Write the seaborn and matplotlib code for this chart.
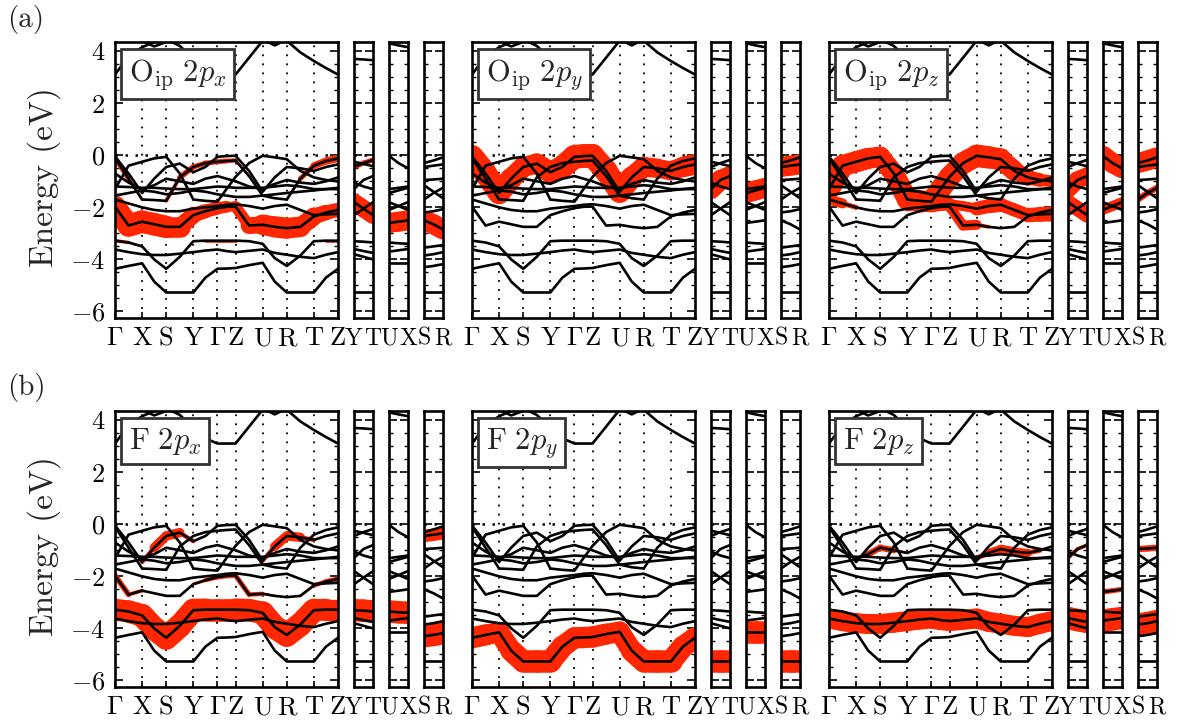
import numpy as np
import pandas as pd
import matplotlib
matplotlib.use("Agg")
import matplotlib.pyplot as plt
from matplotlib.collections import LineCollection
from matplotlib.ticker import MultipleLocator
import seaborn as sns

# ---------------------------------------------------------------------------
# k-path: Γ-X-S-Y-Γ-Z-U-R-T-Z, plus the separate segments Y-T, U-X, S-R
# ---------------------------------------------------------------------------
A_STAR, B_STAR, C_STAR = 1.125, 1.0, 0.75
MAIN_POINTS = ["Γ", "X", "S", "Y", "Γ", "Z", "U", "R", "T", "Z"]
MAIN_SEGMENTS = [A_STAR, B_STAR, A_STAR, B_STAR, C_STAR, A_STAR, B_STAR, A_STAR, B_STAR]
SIDE_PATHS = [("Y", "T"), ("U", "X"), ("S", "R")]

# Band energies (eV, relative to E_F) sampled at the high-symmetry points
# and the midpoints of each segment:
# Γ  m  X  m  S  m  Y  m  Γ  m  Z  m  U  m  R  m  T  m  Z
C2 = [4.7, 4.5, 4.4, 4.18, 4.35, 4.6, 4.7, 4.7, 4.7, 4.7, 4.7, 4.6, 4.45, 4.22, 4.45, 4.7, 4.7, 4.7, 4.7]
C1 = [3.1, 3.8, 4.15, 4.35, 4.45, 4.2, 3.7, 3.3, 3.1, 3.1, 3.1, 3.75, 4.4, 4.5, 4.4, 3.95, 3.62, 3.35, 3.1]
P_PX = [-0.1, -0.9, -1.7, -1.72, -1.75, -0.85, -0.45, -0.3, -0.25, -0.22, -0.2, -0.8, -1.55, -1.65, -1.7, -0.9, -0.4, -0.22, -0.12]
P_PY = [-0.05, -0.7, -1.45, -0.9, -0.45, -0.32, -0.65, -0.45, -0.06, -0.03, -0.02, -0.6, -1.4, -0.85, -0.45, -0.5, -0.6, -0.45, -0.35]
P_PZ = [-1.3, -0.4, -0.25, -0.12, -0.06, -0.7, -1.7, -1.75, -1.78, -1.3, -0.83, -0.3, -0.02, -0.08, -0.15, -0.6, -0.85, -0.95, -1.0]
U4 = [-0.7, -1.05, -1.3, -1.15, -0.9, -1.0, -1.1, -0.9, -0.8, -0.9, -1.0, -1.2, -1.3, -1.1, -0.95, -1.05, -1.1, -1.0, -0.85]
FLAT = [-1.2, -1.22, -1.25, -1.25, -1.28, -1.3, -1.3, -1.25, -1.2, -1.22, -1.25, -1.25, -1.25, -1.2, -1.15, -1.2, -1.3, -1.3, -1.3]
U5 = [-1.55, -1.45, -1.35, -1.4, -1.5, -1.45, -1.35, -1.4, -1.5, -1.55, -1.6, -1.6, -1.55, -1.5, -1.45, -1.4, -1.35, -1.3, -1.25]
M2 = [-1.7, -1.85, -2.0, -2.1, -2.15, -2.15, -2.05, -2.0, -1.95, -1.9, -1.88, -1.95, -2.05, -1.95, -1.9, -2.1, -2.3, -2.27, -2.25]
M1 = [-1.97, -2.7, -2.55, -2.65, -2.75, -2.75, -2.3, -2.15, -2.03, -1.98, -1.97, -2.7, -2.67, -2.75, -2.8, -2.75, -2.35, -2.2, -2.1]
B2 = [-3.28, -3.35, -3.5, -4.0, -4.36, -3.9, -3.3, -3.28, -3.28, -3.28, -3.28, -3.3, -3.4, -3.95, -4.25, -3.85, -3.3, -3.28, -3.28]
B3 = [-3.62, -3.72, -3.8, -3.83, -3.83, -3.78, -3.72, -3.66, -3.62, -3.68, -3.72, -3.67, -3.62, -3.75, -3.82, -3.9, -3.95, -3.82, -3.72]
B1 = [-4.36, -4.25, -4.15, -4.85, -5.27, -5.27, -5.27, -4.7, -4.36, -4.35, -4.33, -4.22, -4.13, -4.85, -5.27, -5.27, -5.27, -4.7, -4.36]

# Side segments: start, midpoint, end
YT_C1 = [3.7, 3.68, 3.65]
YT_1 = [-0.45, -0.3, -0.18]
YT_2 = [-0.25, -0.33, -0.42]
YT_3 = [-1.3, -0.95, -0.8]
YT_4 = [-1.05, -1.2, -1.3]
YT_5 = [-1.8, -2.05, -2.3]
YT_6 = [-2.3, -2.05, -1.8]
YT_7 = [-3.3, -3.32, -3.35]
YT_8 = [-3.6, -3.68, -3.75]
YT_9 = [-3.8, -3.9, -4.0]
YT_B1 = [-5.27, -5.27, -5.27]

UX_C1 = [4.3, 4.22, 4.15]
UX_1 = [-0.02, -0.3, -0.5]
UX_2 = [-1.3, -1.25, -1.2]
UX_3 = [-1.45, -1.35, -1.25]
UX_4 = [-1.8, -1.95, -2.1]
UX_5 = [-2.1, -1.95, -1.8]
UX_6 = [-2.6, -2.55, -2.5]
UX_7 = [-3.35, -3.38, -3.4]
UX_8 = [-3.7, -3.65, -3.6]
UX_9 = [-4.15, -4.15, -4.15]

SR_1 = [-0.3, -0.2, -0.08]
SR_2 = [-0.45, -0.4, -0.35]
SR_3 = [-0.95, -0.93, -0.9]
SR_4 = [-1.15, -1.4, -1.65]
SR_5 = [-1.7, -1.45, -1.25]
SR_6 = [-2.2, -2.15, -2.07]
SR_7 = [-2.5, -2.65, -2.85]
SR_8 = [-3.55, -3.5, -3.45]
SR_9 = [-3.85, -3.8, -3.72]
SR_10 = [-4.3, -4.25, -4.18]
SR_11 = [-5.27, -5.27, -5.27]

MAIN_BANDS = {"C2": C2, "C1": C1, "P_PX": P_PX, "P_PY": P_PY, "P_PZ": P_PZ, "U4": U4,
              "FLAT": FLAT, "U5": U5, "M2": M2, "M1": M1, "B2": B2, "B3": B3, "B1": B1}
SIDE_BANDS = [
    {"C1": YT_C1, "1": YT_1, "2": YT_2, "3": YT_3, "4": YT_4, "5": YT_5, "6": YT_6,
     "7": YT_7, "8": YT_8, "9": YT_9, "B1": YT_B1},
    {"C1": UX_C1, "1": UX_1, "2": UX_2, "3": UX_3, "4": UX_4, "5": UX_5, "6": UX_6,
     "7": UX_7, "8": UX_8, "9": UX_9},
    {"1": SR_1, "2": SR_2, "3": SR_3, "4": SR_4, "5": SR_5, "6": SR_6, "7": SR_7,
     "8": SR_8, "9": SR_9, "10": SR_10, "11": SR_11},
]

# Orbital projections (weight 0..1) on the main path
W_OIP_PX = {
    "M1": [0.85, 0.9, 0.9, 0.9, 0.9, 0.75, 0.6, 0.55, 0.5, 0.45, 0.35, 0.55, 0.8, 0.85, 0.85, 0.8, 0.65, 0.6, 0.55],
    "P_PX": [0.25, 0.15, 0.05, 0.0, 0.05, 0.25, 0.2, 0.2, 0.2, 0.2, 0.15, 0.05, 0.0, 0.0, 0.05, 0.15, 0.25, 0.3, 0.3],
    "B2": [0.15, 0.12, 0.05, 0, 0, 0, 0.05, 0.1, 0.12, 0.12, 0.1, 0.05, 0, 0, 0, 0, 0.05, 0.1, 0.12],
}
W_OIP_PY = {
    "P_PY": [0.95, 0.9, 0.9, 0.85, 0.8, 0.8, 0.85, 0.9, 0.95, 0.95, 0.95, 0.9, 0.9, 0.85, 0.8, 0.75, 0.75, 0.8, 0.85],
    "B2": [0, 0, 0, 0.05, 0.12, 0.05, 0, 0, 0, 0, 0, 0, 0, 0.05, 0.12, 0.05, 0, 0, 0],
}
W_OIP_PZ = {
    "P_PZ": [0.9, 0.85, 0.85, 0.85, 0.8, 0.8, 0.85, 0.85, 0.85, 0.85, 0.85, 0.85, 0.9, 0.9, 0.85, 0.75, 0.6, 0.5, 0.45],
    "M2": [0.5, 0.3, 0.1, 0, 0, 0, 0.1, 0.35, 0.5, 0.5, 0.5, 0.3, 0.5, 0.6, 0.55, 0.5, 0.55, 0.6, 0.6],
    "M1": [0, 0, 0, 0, 0, 0, 0, 0, 0, 0, 0.3, 0.5, 0.3, 0, 0, 0, 0, 0, 0],
}
W_F_PX = {
    "B2": [0.85, 0.9, 0.9, 0.95, 0.95, 0.95, 0.9, 0.9, 0.9, 0.9, 0.9, 0.9, 0.9, 0.95, 0.95, 0.95, 0.9, 0.85, 0.85],
    "P_PY": [0, 0, 0.05, 0.3, 0.45, 0.3, 0.05, 0, 0, 0, 0, 0, 0.05, 0.3, 0.45, 0.3, 0.05, 0, 0],
    "M1": [0.2, 0.25, 0.05, 0, 0, 0, 0.1, 0.15, 0.2, 0.2, 0.2, 0.2, 0.15, 0.05, 0, 0.05, 0.15, 0.2, 0.2],
}
W_F_PY = {
    "B1": [0.85, 0.85, 0.8, 0.85, 0.9, 0.9, 0.9, 0.85, 0.85, 0.85, 0.85, 0.85, 0.8, 0.85, 0.9, 0.9, 0.9, 0.85, 0.85],
}
W_F_PZ = {
    "B3": [0.8, 0.8, 0.8, 0.8, 0.8, 0.8, 0.8, 0.8, 0.8, 0.8, 0.8, 0.8, 0.8, 0.8, 0.8, 0.8, 0.8, 0.8, 0.8],
    "U4": [0, 0, 0, 0.2, 0.3, 0.2, 0, 0, 0, 0, 0, 0, 0.1, 0.3, 0.35, 0.35, 0.3, 0.1, 0],
}

# Orbital projections on the side segments (Y-T, U-X, S-R)
WS_OIP_PX = [{"5": [0.7, 0.7, 0.7], "1": [0.2, 0.2, 0.2]}, {"6": [0.8, 0.8, 0.8]}, {"7": [0.8, 0.8, 0.8]}]
WS_OIP_PY = [{"3": [0.8, 0.8, 0.8]}, {"3": [0.8, 0.8, 0.8]}, {"2": [0.8, 0.8, 0.8]}]
WS_OIP_PZ = [{"3": [0.7, 0.7, 0.7], "5": [0.6, 0.6, 0.6]},
             {"1": [0.8, 0.8, 0.8], "5": [0.4, 0.4, 0.4]},
             {"1": [0.8, 0.8, 0.8], "5": [0.25, 0.25, 0.25]}]
WS_F_PX = [{"7": [0.9, 0.9, 0.9]}, {"7": [0.9, 0.9, 0.9]}, {"10": [0.9, 0.9, 0.9], "2": [0.5, 0.5, 0.5]}]
WS_F_PY = [{"B1": [0.9, 0.9, 0.9]}, {"9": [0.9, 0.9, 0.9]}, {"11": [0.9, 0.9, 0.9]}]
WS_F_PZ = [{"8": [0.9, 0.9, 0.9], "3": [0.15, 0.15, 0.15]},
           {"8": [0.9, 0.9, 0.9], "6": [0.2, 0.2, 0.2]},
           {"9": [0.9, 0.9, 0.9], "3": [0.25, 0.25, 0.25]}]

PANELS = [
    [(r"$\mathrm{O}_\mathrm{ip}\ 2p_x$", W_OIP_PX, WS_OIP_PX),
     (r"$\mathrm{O}_\mathrm{ip}\ 2p_y$", W_OIP_PY, WS_OIP_PY),
     (r"$\mathrm{O}_\mathrm{ip}\ 2p_z$", W_OIP_PZ, WS_OIP_PZ)],
    [(r"$\mathrm{F}\ 2p_x$", W_F_PX, WS_F_PX),
     (r"$\mathrm{F}\ 2p_y$", W_F_PY, WS_F_PY),
     (r"$\mathrm{F}\ 2p_z$", W_F_PZ, WS_F_PZ)],
]
ROW_TAGS = ["(a)", "(b)"]

E_LIM = (-6.25, 4.35)
FAT_RED = "#ff2600"
FAT_MAX_LW = 18.0
BAND_LW = 1.9
SPINE_LW = 1.9
TICK_FS = 19
SIDE_TICK_FS = 17
LABEL_FS = 24

# ---------------------------------------------------------------------------
sns.set_theme(style="ticks")
plt.rcParams.update({
    "font.family": ["cmr10", "DejaVu Serif"],
    "mathtext.fontset": "cm",
    "axes.formatter.use_mathtext": True,
    "axes.unicode_minus": True,
    "axes.linewidth": SPINE_LW,
    "axes.edgecolor": "black",
    "xtick.color": "black",
    "ytick.color": "black",
})

hs_k = np.concatenate([[0.0], np.cumsum(MAIN_SEGMENTS)])
main_k = np.concatenate([np.ravel(np.column_stack([hs_k[:-1], 0.5 * (hs_k[:-1] + hs_k[1:])])), [hs_k[-1]]])
side_k = np.array([0.0, 0.5 * C_STAR, C_STAR])


def tick_label(p):
    return r"$\Gamma$" if p == "Γ" else p


def draw_bands(ax, k, bands, weights):
    # projected weights as red ribbons of varying width
    for name, w in weights.items():
        e = np.asarray(bands[name], float)
        w = np.asarray(w, float)
        pts = np.column_stack([k, e])
        segs = np.stack([pts[:-1], pts[1:]], axis=1)
        lw = 0.5 * (w[:-1] + w[1:]) * FAT_MAX_LW
        keep = lw > 0.05
        lc = LineCollection(segs[keep], linewidths=lw[keep], colors=FAT_RED,
                            capstyle="round", joinstyle="round", zorder=2)
        ax.add_collection(lc)
    names = list(bands.keys())
    df = pd.DataFrame({
        "k": np.tile(k, len(names)),
        "E": np.concatenate([np.asarray(bands[n], float) for n in names]),
        "band": np.repeat(names, len(k)),
    })
    sns.lineplot(data=df, x="k", y="E", units="band", estimator=None, sort=False,
                 color="black", linewidth=BAND_LW, ax=ax, legend=False, zorder=3)
    ax.set_xlabel("")
    ax.set_ylabel("")


def style_energy_axis(ax, show_labels):
    ax.set_ylim(*E_LIM)
    ax.set_yticks(np.arange(-6, 5, 2))
    ax.yaxis.set_minor_locator(MultipleLocator(0.5))
    ax.tick_params(axis="y", which="major", direction="in", left=True, right=True,
                   length=6, width=1.2, labelsize=TICK_FS, pad=7, labelleft=show_labels)
    ax.tick_params(axis="y", which="minor", direction="in", left=True, right=True,
                   length=3, width=1.0)
    ax.axhline(0.0, color="black", lw=1.8, ls=(0, (1, 3)), zorder=1)
    for s in ax.spines.values():
        s.set_linewidth(SPINE_LW)


W_FIG, H_FIG = 1180, 726
fig = plt.figure(figsize=(W_FIG / 100, H_FIG / 100), dpi=100)

ROW_TOP = [42, 411]
AX_H = 276
COL_LEFT = [115, 472, 829]
MAIN_W = 223
SIDE_OFF = [239, 274, 309]
SIDE_W = 19


def add_ax(x0, top, w, h):
    return fig.add_axes([x0 / W_FIG, 1 - (top + h) / H_FIG, w / W_FIG, h / H_FIG])


for r, row in enumerate(PANELS):
    top = ROW_TOP[r]
    for c, (title, w_main, w_side) in enumerate(row):
        x0 = COL_LEFT[c]
        ax = add_ax(x0, top, MAIN_W, AX_H)
        draw_bands(ax, main_k, MAIN_BANDS, w_main)
        ax.set_xlim(hs_k[0], hs_k[-1])
        for xv in hs_k[1:-1]:
            ax.axvline(xv, color="black", lw=1.3, ls=(0, (1, 4)), zorder=1)
        ax.set_xticks(hs_k)
        ax.set_xticklabels([tick_label(p) for p in MAIN_POINTS])
        ax.tick_params(axis="x", direction="in", length=4, width=1.2, labelsize=TICK_FS,
                       pad=6, top=False)
        style_energy_axis(ax, show_labels=(c == 0))
        ax.text(0.062, 0.947, title, transform=ax.transAxes, ha="left", va="top",
                fontsize=22, zorder=5,
                bbox=dict(boxstyle="square,pad=0.25", fc="white", ec="#333333", lw=2.0))

        for s, (p0, p1) in enumerate(SIDE_PATHS):
            sax = add_ax(x0 + SIDE_OFF[s], top, SIDE_W, AX_H)
            draw_bands(sax, side_k, SIDE_BANDS[s], w_side[s])
            sax.set_xlim(0, C_STAR)
            sax.set_xticks([0, C_STAR])
            sax.set_xticklabels([tick_label(p0), tick_label(p1)])
            sax.tick_params(axis="x", direction="in", length=0, labelsize=SIDE_TICK_FS,
                            pad=7)
            style_energy_axis(sax, show_labels=False)

    fig.text(44 / W_FIG, 1 - (top + AX_H / 2 - 3) / H_FIG, "Energy (eV)", rotation=90,
             ha="center", va="center", fontsize=LABEL_FS)
    fig.text(26 / W_FIG, 1 - (top - 23) / H_FIG, ROW_TAGS[r], ha="center", va="center",
             fontsize=21)

fig.savefig("out.png", dpi=100)
